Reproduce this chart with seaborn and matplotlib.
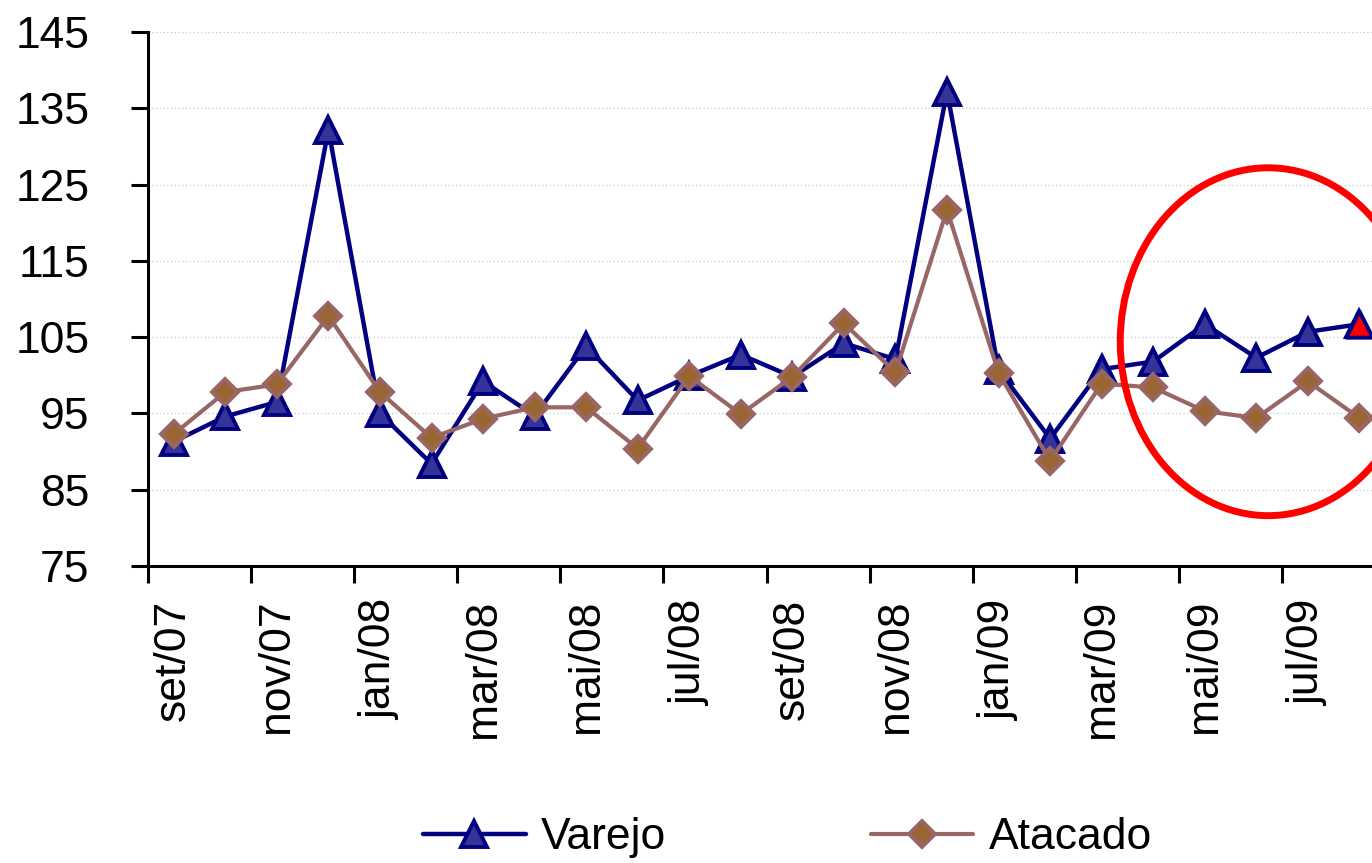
import numpy as np
import pandas as pd
import matplotlib
matplotlib.use("Agg")
import matplotlib.pyplot as plt
from matplotlib.patches import Ellipse
from matplotlib.ticker import FixedLocator
import seaborn as sns

# Monthly index values, set/07 .. ago/09
months = ["set/07", "out/07", "nov/07", "dez/07", "jan/08", "fev/08",
          "mar/08", "abr/08", "mai/08", "jun/08", "jul/08", "ago/08",
          "set/08", "out/08", "nov/08", "dez/08", "jan/09", "fev/09",
          "mar/09", "abr/09", "mai/09", "jun/09", "jul/09", "ago/09"]
varejo = [91.3, 94.6, 96.5, 132.2, 95.0, 88.4, 99.2, 94.7, 103.8, 96.7,
          99.9, 102.7, 99.8, 104.2, 102.1, 137.2, 100.7, 91.7, 100.8, 101.8,
          106.7, 102.3, 105.7, 106.7]
atacado = [92.3, 97.8, 98.8, 107.8, 97.8, 91.8, 94.3, 95.8, 95.8, 90.4,
           99.9, 94.9, 99.8, 106.8, 100.4, 121.7, 100.3, 88.8, 98.9, 98.4,
           95.3, 94.4, 99.2, 94.4]
y_ticks = [75, 85, 95, 105, 115, 125, 135, 145]

df = pd.DataFrame({"pos": np.arange(len(months)), "mes": months,
                   "Varejo": varejo, "Atacado": atacado})

sns.set_theme(style="white")
plt.rcParams["font.family"] = ["Liberation Sans", "DejaVu Sans"]
plt.rcParams["text.color"] = "black"

W, H = 1372, 863
fig = plt.figure(figsize=(W / 100, H / 100), dpi=100)
step = 51.55
ax = fig.add_axes([148 / W, 1 - 566 / H, 24 * step / W, 534 / H])

sns.lineplot(data=df, x="pos", y="Varejo", ax=ax, color="#000080", lw=3.2,
             marker="^", markersize=19, markerfacecolor="#333399",
             markeredgecolor="#000080", markeredgewidth=2.8,
             label="Varejo", zorder=3)
sns.lineplot(data=df, x="pos", y="Atacado", ax=ax, color="#996666", lw=3,
             marker="D", markersize=13, markerfacecolor="#996633",
             markeredgecolor="#996666", markeredgewidth=2.8,
             label="Atacado", zorder=4)

# latest retail reading highlighted in red
last = df.iloc[[-1]]
sns.scatterplot(data=last, x="pos", y="Varejo", ax=ax, marker="^", s=19 ** 2,
                color="#ff0000", edgecolor="#000080", linewidth=2.8,
                legend=False, zorder=5)

# ring around the recent months
ax.add_patch(Ellipse((21.23, 104.4), 5.74, 45.6, fill=False,
                     edgecolor="#ff0000", lw=5, zorder=6, clip_on=False))

ax.set_xlim(-0.5, 23.5)
ax.set_ylim(75, 145)
ax.set_yticks(y_ticks)
ax.set_xticks(df["pos"][::2])
ax.set_xticklabels(df["mes"][::2], rotation=90)
ax.xaxis.set_minor_locator(FixedLocator(np.arange(-0.5, 24, 2)))
ax.set_xlabel("")
ax.set_ylabel("")

ax.yaxis.grid(True, linestyle=(0, (1, 2)), color="#c8c8c8", lw=0.9)
ax.xaxis.grid(False)
for side in ["top", "right"]:
    ax.spines[side].set_visible(False)
for side in ["left", "bottom"]:
    ax.spines[side].set_color("black")
    ax.spines[side].set_linewidth(2.2)

ax.tick_params(axis="y", which="major", direction="out", length=12, width=2.2,
               color="black", labelsize=32, pad=30, left=True)
ax.tick_params(axis="x", which="major", length=0, labelsize=32, pad=24,
               bottom=True)
ax.tick_params(axis="x", which="minor", direction="out", length=12, width=2.2,
               color="black", bottom=True)
for lbl in ax.get_xticklabels() + ax.get_yticklabels():
    lbl.set_color("black")

handles, labels = ax.get_legend_handles_labels()
leg = ax.legend(handles[:2], labels[:2], loc="center",
                bbox_to_anchor=(0.574, 0.029), bbox_transform=fig.transFigure,
                ncol=2, frameon=False, fontsize=32, handlelength=2.3,
                handletextpad=0.35, columnspacing=4.6)
for t in leg.get_texts():
    t.set_color("black")

fig.savefig("out.png", dpi=100)
